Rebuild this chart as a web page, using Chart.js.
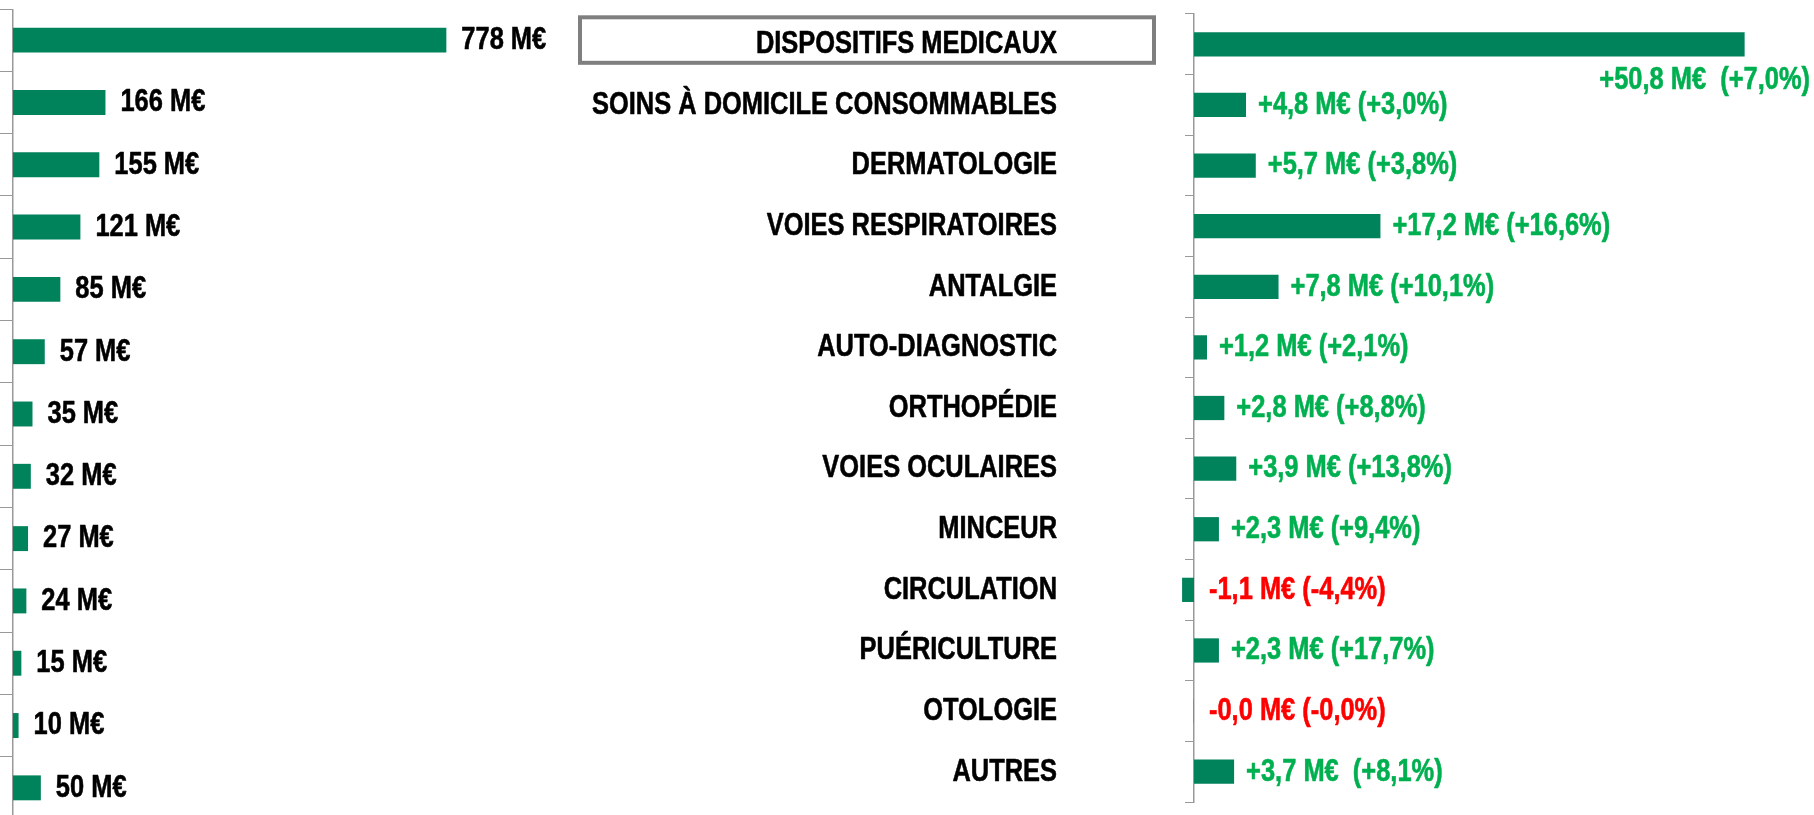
<!DOCTYPE html>
<html><head><meta charset="utf-8">
<script src="https://cdn.jsdelivr.net/npm/chart.js@4/dist/chart.umd.min.js"></script>
<style>
html,body{margin:0;padding:0;background:#fff;width:1814px;height:815px;overflow:hidden;}
#wrap{position:relative;width:1814px;height:815px;overflow:hidden;}
#c2{position:absolute;left:0;top:0;}
#c1{position:absolute;left:0;top:9px;}
</style></head><body>
<div id="wrap">
<canvas id="c2" width="1814" height="815"></canvas>
<canvas id="c1" width="570" height="810"></canvas>
</div>
<script>
const categories = ['DISPOSITIFS MEDICAUX', 'SOINS À DOMICILE CONSOMMABLES', 'DERMATOLOGIE', 'VOIES RESPIRATOIRES', 'ANTALGIE', 'AUTO-DIAGNOSTIC', 'ORTHOPÉDIE', 'VOIES OCULAIRES', 'MINCEUR', 'CIRCULATION', 'PUÉRICULTURE', 'OTOLOGIE', 'AUTRES'];
const salesValues = [778, 166, 155, 121, 85, 57, 35, 32, 27, 24, 15, 10, 50];
const salesLabels = salesValues.map(v => v + ' M€');
const changeValues = [50.8, 4.8, 5.7, 17.2, 7.8, 1.2, 2.8, 3.9, 2.3, -1.1, 2.3, -0.02, 3.7];
const changeLabels = ['+50,8 M€  (+7,0%)', '+4,8 M€ (+3,0%)', '+5,7 M€ (+3,8%)', '+17,2 M€ (+16,6%)', '+7,8 M€ (+10,1%)', '+1,2 M€ (+2,1%)', '+2,8 M€ (+8,8%)', '+3,9 M€ (+13,8%)', '+2,3 M€ (+9,4%)', '-1,1 M€ (-4,4%)', '+2,3 M€ (+17,7%)', '-0,0 M€ (-0,0%)', '+3,7 M€  (+8,1%)'];

const FONT = "'Liberation Sans', Arial, sans-serif";
const NARROW = 0.795;   // horizontal squeeze to mimic Arial Narrow
const FSIZE = 32;
const BAR = '#00825A';
const AXIS = '#999999';

function narrowText(ctx, text, x, y, align) {
  ctx.save();
  ctx.translate(x, y);
  ctx.scale(NARROW, 1);
  ctx.textAlign = align;
  ctx.strokeStyle = ctx.fillStyle;
  ctx.lineWidth = 0.6;
  ctx.lineJoin = 'round';
  ctx.fillText(text, 0, 0);
  ctx.strokeText(text, 0, 0);
  ctx.restore();
}

const valueLabelPlugin = {
  id: 'valueLabels',
  afterDatasetsDraw(chart, args, opts) {
    const ctx = chart.ctx;
    const meta = chart.getDatasetMeta(0);
    const data = chart.data.datasets[0].data;
    ctx.save();
    ctx.font = 'bold ' + FSIZE + 'px ' + FONT;
    ctx.textBaseline = 'middle';
    meta.data.forEach((bar, i) => {
      const text = opts.labels[i];
      const neg = data[i] < 0;
      ctx.fillStyle = opts.color ? opts.color : (neg ? '#FF0000' : '#00B050');
      let x = neg ? bar.base + opts.negGap : bar.x + opts.gap;
      let y = bar.y;
      let align = 'left';
      const w = ctx.measureText(text).width * NARROW;
      if (opts.wrapBelow && x + w > chart.width) {
        align = 'right';
        x = chart.width - 4;
        y = bar.y + bar.height / 2 + 24;
      }
      narrowText(ctx, text, x, y, align);
    });
    ctx.restore();
  }
};

const categoryLabelPlugin = {
  id: 'catLabels',
  afterDraw(chart, args, opts) {
    const s = chart.scales.y;
    const ctx = chart.ctx;
    const labelRight = s.right - s.options.grid.tickLength - opts.gap;
    ctx.save();
    ctx.font = 'bold ' + FSIZE + 'px ' + FONT;
    ctx.textBaseline = 'middle';
    ctx.fillStyle = '#000';
    chart.data.labels.forEach((lab, i) => {
      narrowText(ctx, lab, labelRight, s.getPixelForTick(i), 'right');
    });
    // frame around the first (total) category
    const cy = s.getPixelForTick(0);
    ctx.strokeStyle = '#7F7F7F';
    ctx.lineWidth = 4;
    ctx.strokeRect(labelRight - 477, cy - 27, 574, 45.5);
    ctx.restore();
  }
};

new Chart(document.getElementById('c2'), {
  type: 'bar',
  data: { labels: categories, datasets: [{ data: changeValues, backgroundColor: BAR, barPercentage: 0.8, categoryPercentage: 0.5, clip: false }] },
  options: {
    indexAxis: 'y', responsive: false, animation: false,
    layout: { padding: { top: 14, bottom: 13, left: 0, right: 0 } },
    plugins: { legend: { display: false }, tooltip: { enabled: false },
      valueLabels: { labels: changeLabels, gap: 12, negGap: 15, wrapBelow: true },
      catLabels: { gap: 128 } },
    scales: {
      x: { display: false, min: 0, max: 57.2 },
      y: {
        position: 'left',
        afterFit(s) { s.width = 1194; },
        grid: { drawOnChartArea: false, drawTicks: true, tickLength: 9, color: AXIS, lineWidth: 1 },
        border: { display: true, color: AXIS, width: 1.5 },
        ticks: { display: false, autoSkip: false }
      }
    }
  },
  plugins: [valueLabelPlugin, categoryLabelPlugin]
});

new Chart(document.getElementById('c1'), {
  type: 'bar',
  data: { labels: categories, datasets: [{ data: salesValues, backgroundColor: BAR, barPercentage: 0.8, categoryPercentage: 0.5 }] },
  options: {
    indexAxis: 'y', responsive: false, animation: false,
    layout: { padding: 0 },
    plugins: { legend: { display: false }, tooltip: { enabled: false },
      valueLabels: { labels: salesLabels, gap: 15, negGap: 15, color: '#000', wrapBelow: false } },
    scales: {
      x: { display: false, min: 0, max: 1000 },
      y: {
        afterFit(s) { s.width = 13; },
        grid: { drawOnChartArea: false, drawTicks: true, tickLength: 13, color: AXIS, lineWidth: 1 },
        border: { display: true, color: AXIS, width: 1.5 },
        ticks: { display: false }
      }
    }
  },
  plugins: [valueLabelPlugin]
});
</script>
</body></html>
